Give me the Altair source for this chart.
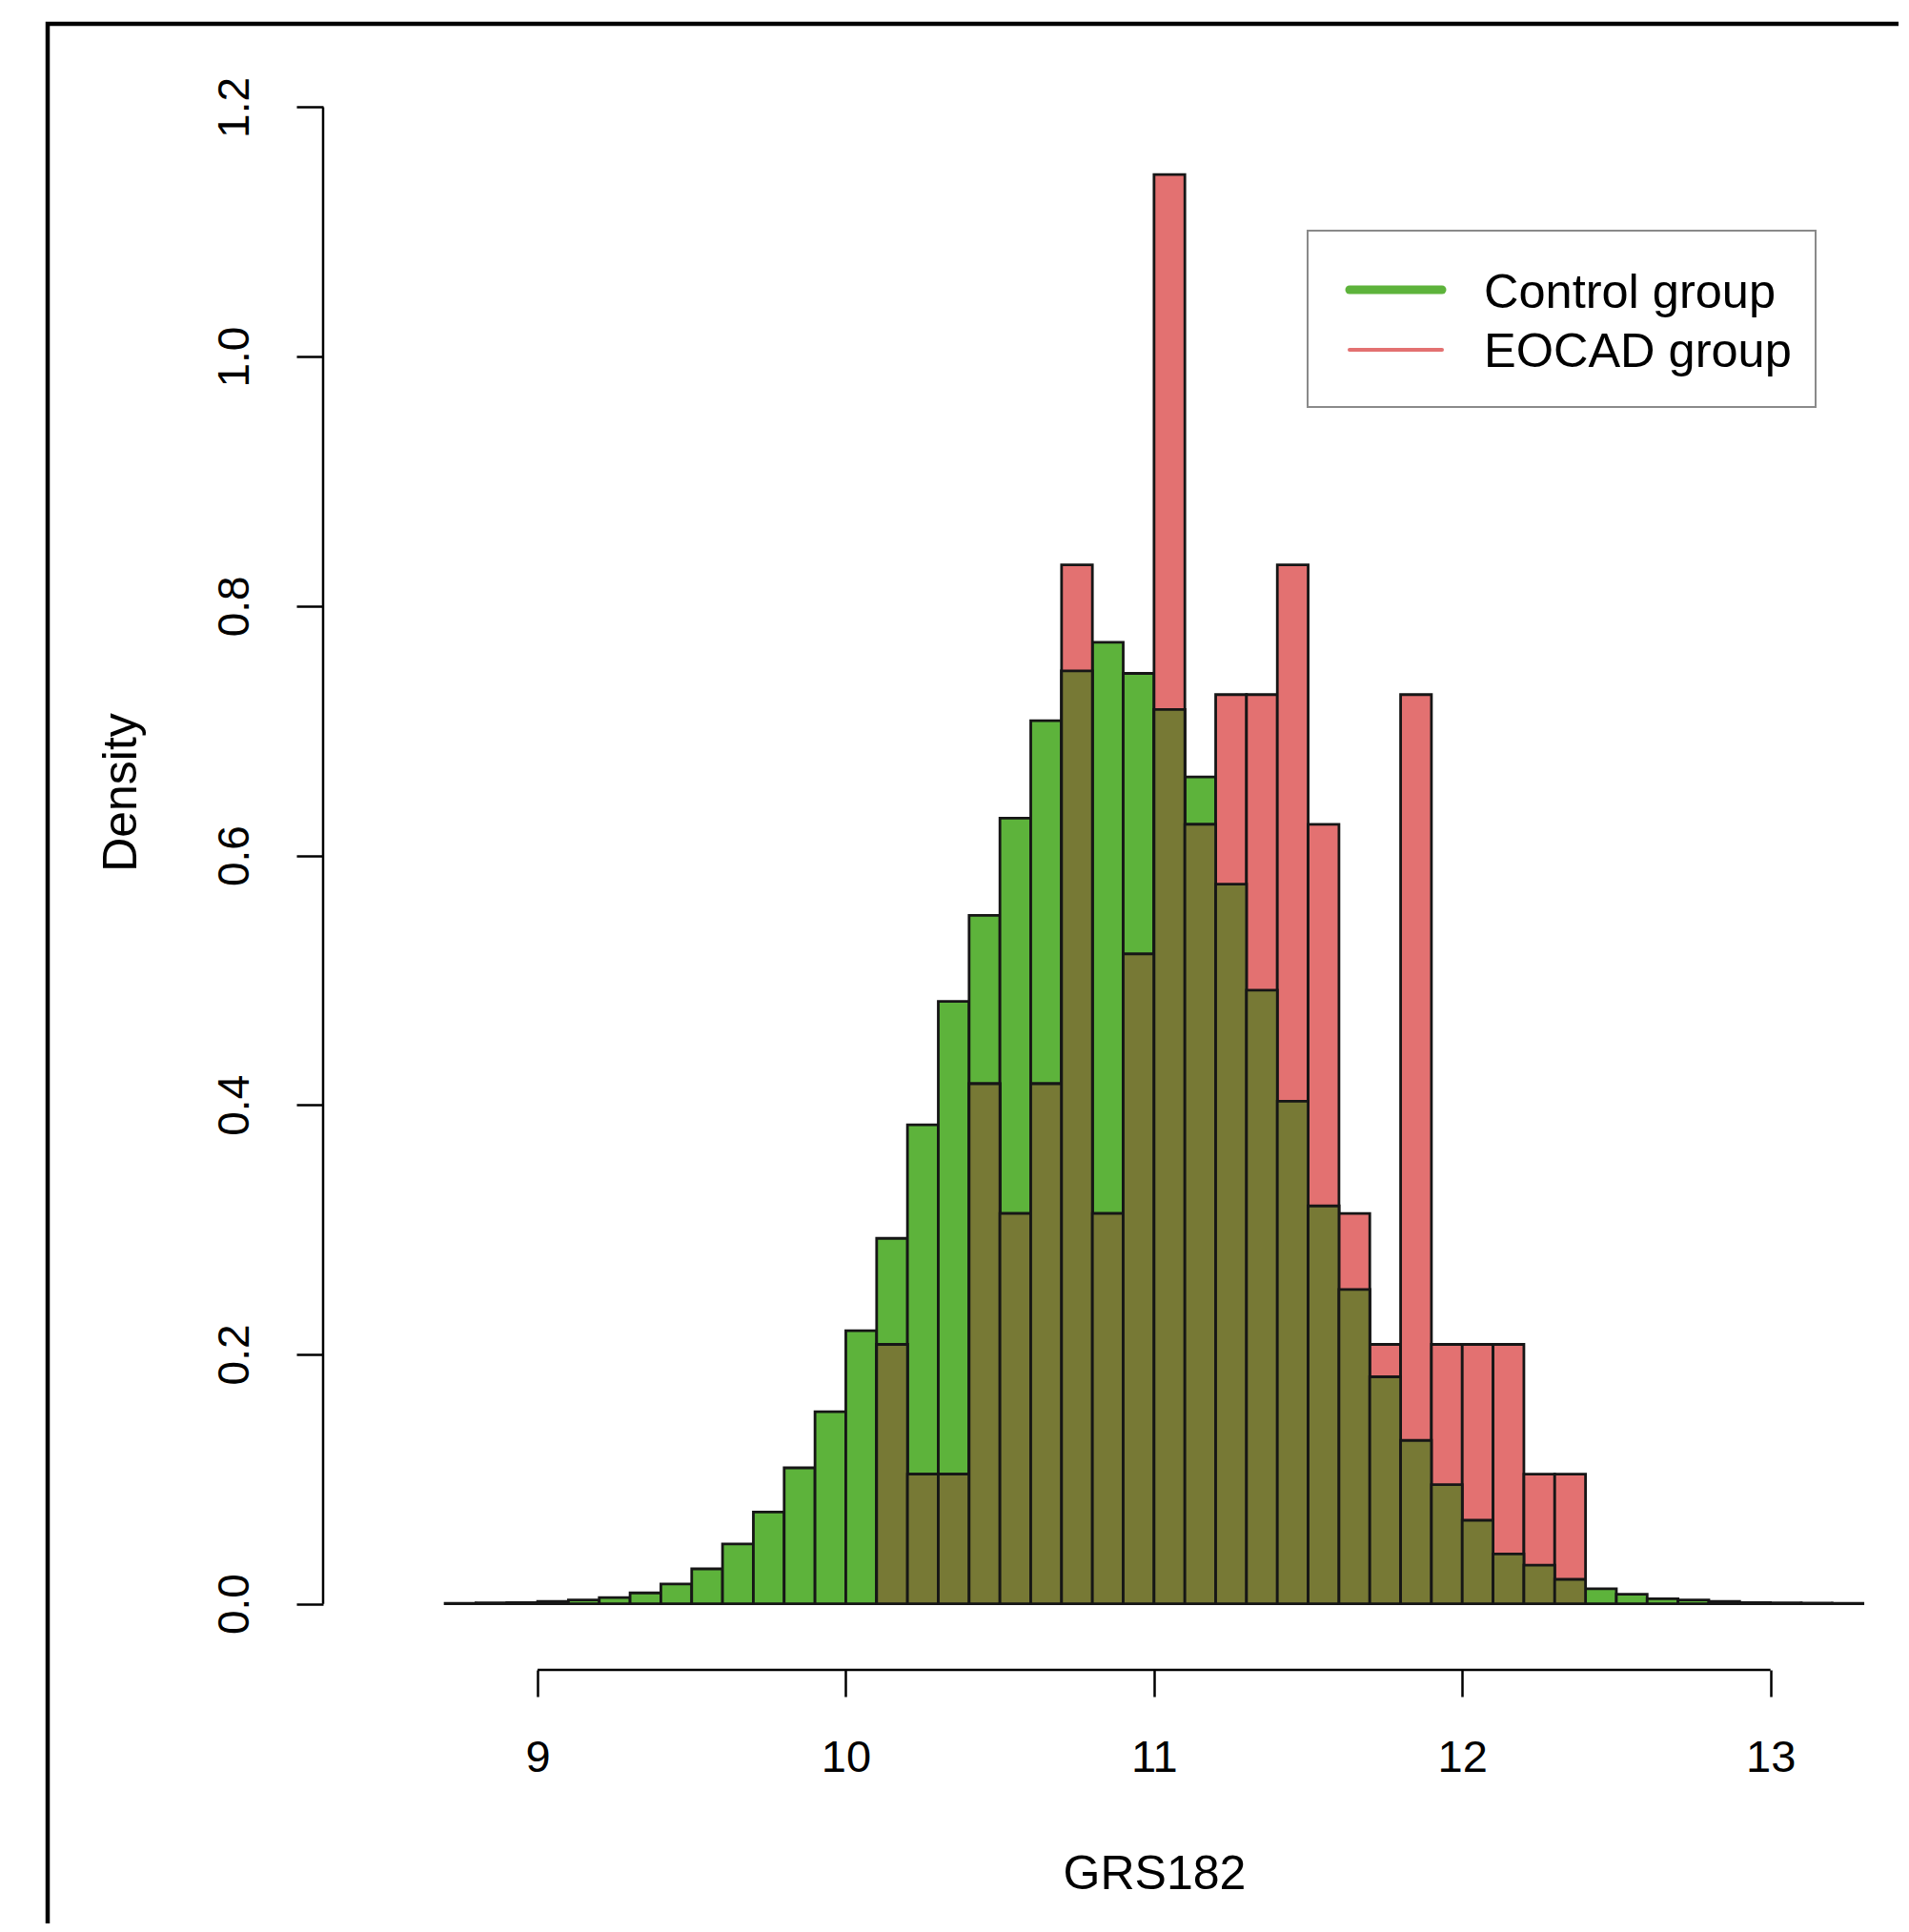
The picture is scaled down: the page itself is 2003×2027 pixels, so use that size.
import altair as alt
import pandas as pd

# ---------------- data ----------------
bin_start = [8.7, 8.8, 8.9, 9.0, 9.1, 9.2, 9.3, 9.4, 9.5, 9.6, 9.7, 9.8, 9.9,
             10.0, 10.1, 10.2, 10.3, 10.4, 10.5, 10.6, 10.7, 10.8, 10.9,
             11.0, 11.1, 11.2, 11.3, 11.4, 11.5, 11.6, 11.7, 11.8, 11.9,
             12.0, 12.1, 12.2, 12.3, 12.4, 12.5, 12.6, 12.7, 12.8, 12.9,
             13.0, 13.1, 13.2]
bin_end = [8.8, 8.9, 9.0, 9.1, 9.2, 9.3, 9.4, 9.5, 9.6, 9.7, 9.8, 9.9, 10.0,
           10.1, 10.2, 10.3, 10.4, 10.5, 10.6, 10.7, 10.8, 10.9, 11.0,
           11.1, 11.2, 11.3, 11.4, 11.5, 11.6, 11.7, 11.8, 11.9, 12.0,
           12.1, 12.2, 12.3, 12.4, 12.5, 12.6, 12.7, 12.8, 12.9, 13.0,
           13.1, 13.2, 13.3]
control_density = [0.0003, 0.0007, 0.001, 0.002, 0.003, 0.005, 0.0087, 0.0158, 0.028, 0.048, 0.0735, 0.109, 0.154,
                   0.219, 0.293, 0.384, 0.483, 0.552, 0.630, 0.708, 0.748, 0.771, 0.746,
                   0.717, 0.663, 0.577, 0.492, 0.403, 0.319, 0.252, 0.182, 0.131, 0.0955,
                   0.067, 0.040, 0.031, 0.0196, 0.012, 0.0076, 0.004, 0.003, 0.002, 0.001,
                   0.0007, 0.0005, 0.0003]

eocad_bin_start = [10.1, 10.2, 10.3, 10.4, 10.5, 10.6, 10.7, 10.8, 10.9,
                   11.0, 11.1, 11.2, 11.3, 11.4, 11.5, 11.6, 11.7, 11.8, 11.9,
                   12.0, 12.1, 12.2, 12.3]
eocad_bin_end = [10.2, 10.3, 10.4, 10.5, 10.6, 10.7, 10.8, 10.9, 11.0,
                 11.1, 11.2, 11.3, 11.4, 11.5, 11.6, 11.7, 11.8, 11.9, 12.0,
                 12.1, 12.2, 12.3, 12.4]
eocad_density = [0.208, 0.104, 0.104, 0.417, 0.313, 0.417, 0.833, 0.313, 0.521,
                 1.146, 0.625, 0.729, 0.729, 0.833, 0.625, 0.313, 0.208, 0.729, 0.208,
                 0.208, 0.208, 0.104, 0.104]

x_ticks = [9, 10, 11, 12, 13]
y_ticks = [0.0, 0.2, 0.4, 0.6, 0.8, 1.0, 1.2]
legend_labels = ["Control group", "EOCAD group"]

# ---------------- tables ----------------
ctrl = pd.DataFrame({"x0": bin_start, "x1": bin_end, "y": control_density, "base": 0.0})
eo = pd.DataFrame({"x0": eocad_bin_start, "x1": eocad_bin_end, "y": eocad_density, "base": 0.0})
ctrl_lookup = {round(a, 1): v for a, v in zip(bin_start, control_density)}
ov = eo.copy()
ov["y"] = [min(v, ctrl_lookup[round(a, 1)]) for a, v in zip(eocad_bin_start, eocad_density)]

# ---------------- style ----------------
FONT = "Liberation Sans, Arial, Helvetica"
GREEN = "#5DB33B"
RED = "#E37171"
OLIVE = "#777935"
EDGE = "#161616"
W, H = 1648, 1705

xscale = alt.Scale(domain=[8.304, 13.4], nice=False, zero=False)
yscale = alt.Scale(domain=[-0.053, 1.25], nice=False, zero=False)

xaxis = alt.Axis(values=x_ticks, format="d", domain=False, grid=False,
                 tickSize=28, tickWidth=2.5, tickColor="black",
                 labelPadding=64, labelBaseline="middle", labelAlign="center",
                 labelFontSize=47, labelFont=FONT, labelColor="black",
                 labelFlush=False, labelOverlap=False,
                 title="GRS182", titleFont=FONT, titleFontSize=50,
                 titleFontWeight="normal", titleColor="black",
                 titleX=872, titleY=214, titleAlign="center", titleBaseline="middle")
yaxis = alt.Axis(values=y_ticks, format=".1f", domain=False, grid=False,
                 tickSize=28, tickWidth=2.5, tickColor="black",
                 labelAngle=270, labelAlign="center", labelBaseline="middle",
                 labelPadding=65, labelFontSize=46, labelFont=FONT, labelColor="black",
                 labelFlush=False, labelOverlap=False,
                 title="Density", titleFont=FONT, titleFontSize=50,
                 titleFontWeight="normal", titleColor="black",
                 titleAngle=270, titleX=-212, titleY=784,
                 titleAlign="center", titleBaseline="middle")

one = pd.DataFrame({"k": [0]})

border = alt.Chart(one).mark_rect(fillOpacity=0, stroke="black", strokeWidth=4.5).encode(
    x=alt.value(-289), x2=alt.value(W + 300), y=alt.value(-22), y2=alt.value(H + 500))


def bars(df, color):
    return alt.Chart(df).mark_rect(fill=color, stroke=EDGE, strokeWidth=2.8).encode(
        x=alt.X("x0:Q", scale=xscale, axis=xaxis),
        x2="x1:Q",
        y=alt.Y("y:Q", scale=yscale, axis=yaxis),
        y2="base:Q")


green = bars(ctrl, GREEN)
red = bars(eo, RED)
overlap = bars(ov, OLIVE)

xline = alt.Chart(pd.DataFrame({"a": [x_ticks[0]], "b": [x_ticks[-1]]})).mark_rule(
    stroke="black", strokeWidth=2.5).encode(
    x=alt.X("a:Q", scale=xscale, axis=xaxis), x2="b:Q", y=alt.value(H))
yline = alt.Chart(pd.DataFrame({"a": [y_ticks[0]], "b": [y_ticks[-1]]})).mark_rule(
    stroke="black", strokeWidth=2.5).encode(
    y=alt.Y("a:Q", scale=yscale, axis=yaxis), y2="b:Q", x=alt.value(0))

legend_box = alt.Chart(one).mark_rect(fill="white", stroke="#8a8a8a", strokeWidth=2).encode(
    x=alt.value(1033), x2=alt.value(1566), y=alt.value(195), y2=alt.value(380))

legend_layers = []
leg_colors = [GREEN, RED]
leg_widths = [9, 4]
leg_line_y = [257, 320]
leg_text_y = [276, 338]
for lab, col, sw, ly, ty in zip(legend_labels, leg_colors, leg_widths, leg_line_y, leg_text_y):
    legend_layers.append(
        alt.Chart(one).mark_rule(stroke=col, strokeWidth=sw, strokeCap="round").encode(
            x=alt.value(1077), x2=alt.value(1174), y=alt.value(ly)))
    legend_layers.append(
        alt.Chart(pd.DataFrame({"label": [lab]})).mark_text(
            align="left", baseline="alphabetic", font=FONT, fontSize=50.5, color="black").encode(
            x=alt.value(1218), y=alt.value(ty), text="label:N"))

chart = alt.layer(border, green, red, overlap, xline, yline, legend_box, *legend_layers).properties(
    width=W, height=H,
    padding={"left": 331, "top": 39, "right": 5, "bottom": 266},
    autosize=alt.AutoSizeParams(type="none"),
    background="white",
).configure_view(stroke=None)

chart.save("out.html", embed_options={"renderer": "svg", "actions": False})
